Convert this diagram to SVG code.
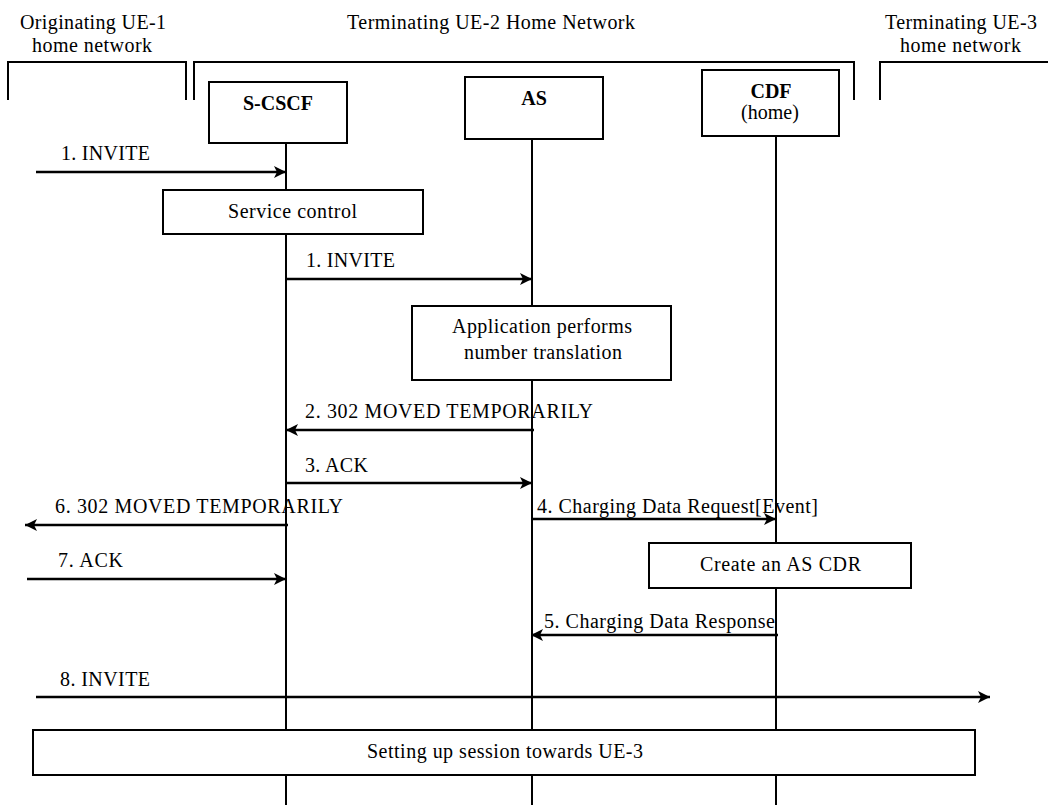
<svg xmlns="http://www.w3.org/2000/svg" width="1048" height="805" viewBox="0 0 1048 805" font-family="Liberation Serif, Tinos, DejaVu Serif, serif">
<style>
text{font-family:'Liberation Serif',Tinos,'DejaVu Serif',serif;font-size:20px;fill:#000}
.b{font-weight:bold}
.box{fill:#fff;stroke:#000;stroke-width:2}
.life{stroke:#000;stroke-width:2;fill:none}
.brk{stroke:#000;stroke-width:2;fill:none}
.msg{stroke:#000;stroke-width:2.6;fill:none;marker-end:url(#ah)}
</style>
<defs>
<marker id="ah" markerUnits="userSpaceOnUse" markerWidth="13" markerHeight="12" refX="12" refY="6" orient="auto">
<path d="M0,0 L12,6 L0,12 L3,6 z" fill="#000"/>
</marker>
</defs>
<rect width="1048" height="805" fill="#fff"/>
<g id="networks">
<text x="20" y="29" textLength="146" lengthAdjust="spacing">Originating UE-1</text>
<text x="32" y="52" textLength="120" lengthAdjust="spacing">home network</text>
<text x="347" y="29" textLength="288" lengthAdjust="spacing">Terminating UE-2 Home Network</text>
<text x="885" y="29" textLength="152" lengthAdjust="spacing">Terminating UE-3</text>
<text x="900" y="52" textLength="121" lengthAdjust="spacing">home network</text>
<path class="brk" d="M8,100 V62 H186 V100"/>
<path class="brk" d="M194,100 V62 H854 V100"/>
<path class="brk" d="M880,100 V62 H1048"/>
</g>
<g id="lifelines">
<line class="life" x1="286" y1="143" x2="286" y2="805"/>
<line class="life" x1="532" y1="139" x2="532" y2="805"/>
<line class="life" x1="776" y1="136" x2="776" y2="805"/>
</g>
<g id="s-cscf">
<rect class="box" x="209" y="82" width="138" height="61"/>
<text class="b" x="278" y="110" text-anchor="middle">S-CSCF</text>
</g>
<g id="as">
<rect class="box" x="465" y="77" width="138" height="62"/>
<text class="b" x="534" y="105" text-anchor="middle">AS</text>
</g>
<g id="cdf">
<rect class="box" x="702" y="70" width="137" height="66"/>
<text class="b" x="771" y="98" text-anchor="middle">CDF</text>
<text x="770" y="119" text-anchor="middle">(home)</text>
</g>
<g id="service-control">
<rect class="box" x="163" y="190" width="260" height="44"/>
<text x="228" y="218" textLength="129" lengthAdjust="spacing">Service control</text>
</g>
<g id="application">
<rect class="box" x="412" y="306" width="259" height="74"/>
<text x="452" y="333" textLength="180" lengthAdjust="spacing">Application performs</text>
<text x="464" y="359" textLength="158" lengthAdjust="spacing">number translation</text>
</g>
<g id="create-cdr">
<rect class="box" x="649" y="543" width="262" height="45"/>
<text x="700" y="571" textLength="161" lengthAdjust="spacing">Create an AS CDR</text>
</g>
<g id="setting-up">
<rect class="box" x="33" y="730" width="942" height="45"/>
<text x="367" y="758" textLength="276" lengthAdjust="spacing">Setting up session towards UE-3</text>
</g>
<g id="connectors">
<line class="msg" x1="36" y1="172" x2="286" y2="172"/>
<text x="61" y="160" textLength="89" lengthAdjust="spacing">1. INVITE</text>
<line class="msg" x1="286" y1="279" x2="532" y2="279"/>
<text x="306" y="267" textLength="89" lengthAdjust="spacing">1. INVITE</text>
<line class="msg" x1="534" y1="430" x2="286" y2="430"/>
<text x="305" y="418" textLength="288" lengthAdjust="spacing">2. 302 MOVED TEMPORARILY</text>
<line class="msg" x1="286" y1="483" x2="532" y2="483"/>
<text x="305" y="472" textLength="63" lengthAdjust="spacing">3. ACK</text>
<line class="msg" x1="288" y1="525" x2="25" y2="525"/>
<text x="55" y="513" textLength="288" lengthAdjust="spacing">6. 302 MOVED TEMPORARILY</text>
<line class="msg" x1="532" y1="519" x2="776" y2="519"/>
<text x="537" y="513" textLength="281" lengthAdjust="spacing">4. Charging Data Request[Event]</text>
<line class="msg" x1="27" y1="579" x2="286" y2="579"/>
<text x="58" y="567" textLength="65" lengthAdjust="spacing">7. ACK</text>
<line class="msg" x1="778" y1="635" x2="531" y2="635"/>
<text x="544" y="628" textLength="231" lengthAdjust="spacing">5. Charging Data Response</text>
<line class="msg" x1="36" y1="697" x2="990" y2="697"/>
<text x="60" y="686" textLength="90" lengthAdjust="spacing">8. INVITE</text>
</g>
</svg>
